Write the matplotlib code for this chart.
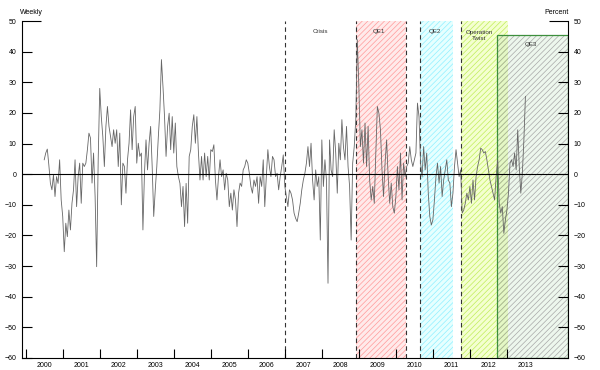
import numpy as np
import matplotlib
matplotlib.use("Agg")
import matplotlib.pyplot as plt
from matplotlib.patches import Rectangle

plt.rcParams["font.family"] = ["Liberation Sans", "DejaVu Sans"]
plt.rcParams["hatch.linewidth"] = 0.5

# weekly series (semi-monthly samples), percent
v2000 = [4.7, 6.9, 8.2, 3, -2.9, -5.1, -0.2, -7.3, -0.8, -3, 4.7, -8.4]
v2001 = [-13.8, -25.3, -16, -20.4, -11.7, -18.2, -9.5, -5.1, 4.7, -10.6, -0.8, 3.6,
         -9.5, 3.6, 2.5, 3.6, 8, 13.4, 11.8, -2.9, 6.9, -7.3, -30.2, 4.7]
v2002 = [28, 18.8, 12.3, 2.5, 15.6, 22.1, 15.6, 12.3, 9, 14.5, 10.1, 14.5,
         2.5, 13.4, -10, 3.6, 2.5, -6.2, 4.7, 10.1, 21, 8, 18.8, 22.1]
v2003 = [3.6, 10.1, 5.8, 6.9, -18.2, 0.3, 11.2, 1.4, 10.1, 15.6, 2.5, -13.8,
         -5.1, 2.5, 12.3, 21, 37.4, 28.6, 18.8, 5.8, 15.6, 19.9, 8, 18.8]
v2004 = [6.9, 16.7, 2.5, -0.8, -3, -10.6, -4, -17.1, -3, -16, 5.8, 8,
         15.6, 19.4, 10.1, 18.8, 6.9, -1.9, 5.8, -1.9, 6.9, -0.8, 5.8, -1.9]
v2005 = [8, 7.4, 9.6, -1.9, -8.4, -0.8, 4.7, -0.8, 1.4, -5.1, 0.3, -1.9,
         -10.6, -6.2, -11.7, -5.1, -8.4, -17.1, -6.2, -2.9, -4, 1.4, 2.5, 4.7]
v2006 = [3.6, 0.3, -4, -6.2, -1.9, -4, -0.8, -9.5, -0.8, -4, 4.7, -10.6,
         -0.8, 8, 2.5, -0.8, 5.8, 4.7, -0.8, 0.3, -5.1, -0.8, 2.5, 6.3]
v2007 = [-4, -7.3, -10.6, -5.1, -6.2, -8.4, -12.7, -14.4, -15.5, -12.7, -9.5, -5.1,
         -1.9, 0.3, 3.6, 9, 2.5, 10.1, -1.9, -8.4, 1.4, -4, -0.8, -21.5]
v2008 = [11.2, -4, 4.7, -1.9, -35.6, 11.2, 1.4, -0.8, 14.5, 6.9, -6.2, 10.1,
         4.7, 17.8, 9, 4.7, 15.6, 2.5, -4, -21.5, 3.6, 9, 17.8, 43.9]
v2009 = [28.6, 9, 14.5, 3.6, 16.7, 2.5, 15.6, -1.9, -8.4, -4, -9.5, 6.9,
         22.1, 19.9, 14.5, 1.4, -7.3, 3.6, 11.2, -0.8, -9.5, -2.9, -10.6, -12.7]
v2010 = [-7.3, 2.5, -5.1, 6.9, -8.4, 3.6, -0.8, 2.5, 3.6, 9, 4.7, 2.5,
         4.7, 6.9, 23.2, 18.8, 3.6, -0.8, 9, 1.4, 6.9, -6.2, -13.8, -16.6]
v2011 = [-14.9, -8.4, -0.8, 3.6, -2.9, 2.5, -7.3, -1.9, 1.4, 4.7, -1.9, -2.9,
         -10.6, -6.2, 2.5, 8, 3.6, -0.8, 1.4, -12.7, -11.7, -9.5, -6.2, -8.4]
v2012 = [-4, -9.5, -1.9, -8.4, -0.8, 2.5, 4.7, 8.5, 8, 6.9, 7.4, 4.7,
         1.4, -1.9, -4, -6.2, -8.4, -0.8, 4.7, -9.5, -12.7, -10.6, -19.3, -14.9]
v2013 = [-11.7, -6.2, 3.6, 4.7, 2.5, 6.9, 1.4, 14.5, 2.5, -6.2, 0.3, 11.2, 25.4]

values = np.array(v2000 + v2001 + v2002 + v2003 + v2004 + v2005 + v2006 + v2007
                  + v2008 + v2009 + v2010 + v2011 + v2012 + v2013)
dates = 2000.5 + np.arange(len(values)) / 24.0

years = list(range(2000, 2014))

# policy periods (decimal years)
crisis_start = 2007.0
qe1 = (2008.93, 2010.27)
qe2 = (2010.64, 2011.55)
twist = (2011.76, 2013.03)
qe3 = (2012.73, 2014.65)
qe3_top = 45.5

fig = plt.figure(figsize=(6, 3.7), dpi=100)
ax = fig.add_axes([22 / 600, 12 / 370, 546 / 600, 337 / 370])

ax.axvspan(*qe1, facecolor="#ffeaea", edgecolor="#ff9a9a", hatch="//////", lw=0, zorder=0)
ax.axvspan(*qe2, facecolor="#e6ffff", edgecolor="#8ff0ff", hatch="//////", lw=0, zorder=0)
ax.axvspan(*twist, facecolor="#f4ffd0", edgecolor="#c0ee5a", hatch="//////", lw=0, zorder=0)
ax.add_patch(Rectangle((qe3[0], -60), qe3[1] - qe3[0], qe3_top + 60,
                       facecolor=(0.55, 0.8, 0.55, 0.15), edgecolor="#a8a8a8",
                       hatch="//////", lw=0, zorder=0.5))
ax.add_patch(Rectangle((qe3[0], -60), qe3[1] - qe3[0], qe3_top + 60,
                       fill=False, edgecolor="#3d8f3d", lw=0.9, zorder=0.6))

for xv in [crisis_start, qe1[0], qe1[1], qe2[0], twist[0]]:
    ax.axvline(xv, color="#333333", ls=(0, (4, 3)), lw=0.8, zorder=1)

ax.plot(dates, values, color="#666666", lw=0.6, zorder=2)
ax.axhline(0, color="black", lw=0.8, zorder=3)

txt = dict(fontsize=4.5, ha="center", va="center", color="#333333")
ax.text(2007.95, 46.5, "Crisis", **txt)
ax.text(2009.55, 46.5, "QE1", **txt)
ax.text(2011.06, 46.5, "QE2", **txt)
ax.text(2012.25, 45.3, "Operation\nTwist", linespacing=1.3, **txt)
ax.text(2013.65, 42.2, "QE3", **txt)

ax.set_xlim(1999.9, 2014.65)
ax.set_ylim(-60, 50)

ax.set_xticks(years)
ax.set_xticklabels([])
ax.set_xticks([y + 0.5 for y in years], minor=True)
ax.set_xticklabels([str(y) for y in years], minor=True)
ax.tick_params(axis="x", which="major", direction="in", length=6.5, width=0.8)
ax.tick_params(axis="x", which="minor", length=0, labelsize=5, pad=3)

ax.set_yticks(range(-60, 51, 10))
ax.tick_params(axis="y", direction="in", length=7, width=0.8, labelsize=5,
               left=True, right=True, labelleft=True, labelright=True, pad=4)
# top ticks drawn longer, as in the original
top_tick = ax.yaxis.get_major_ticks()[-1]
top_tick.tick1line.set_markersize(14)
top_tick.tick2line.set_markersize(14)

ax.spines["top"].set_visible(False)
for s in ["left", "right", "bottom"]:
    ax.spines[s].set_linewidth(0.8)

fig.text(31 / 600, 1 - 13 / 370, "Weekly", fontsize=5, ha="center", va="center")
fig.text(557 / 600, 1 - 13 / 370, "Percent", fontsize=5, ha="center", va="center")

fig.savefig("out.png", dpi=100)
